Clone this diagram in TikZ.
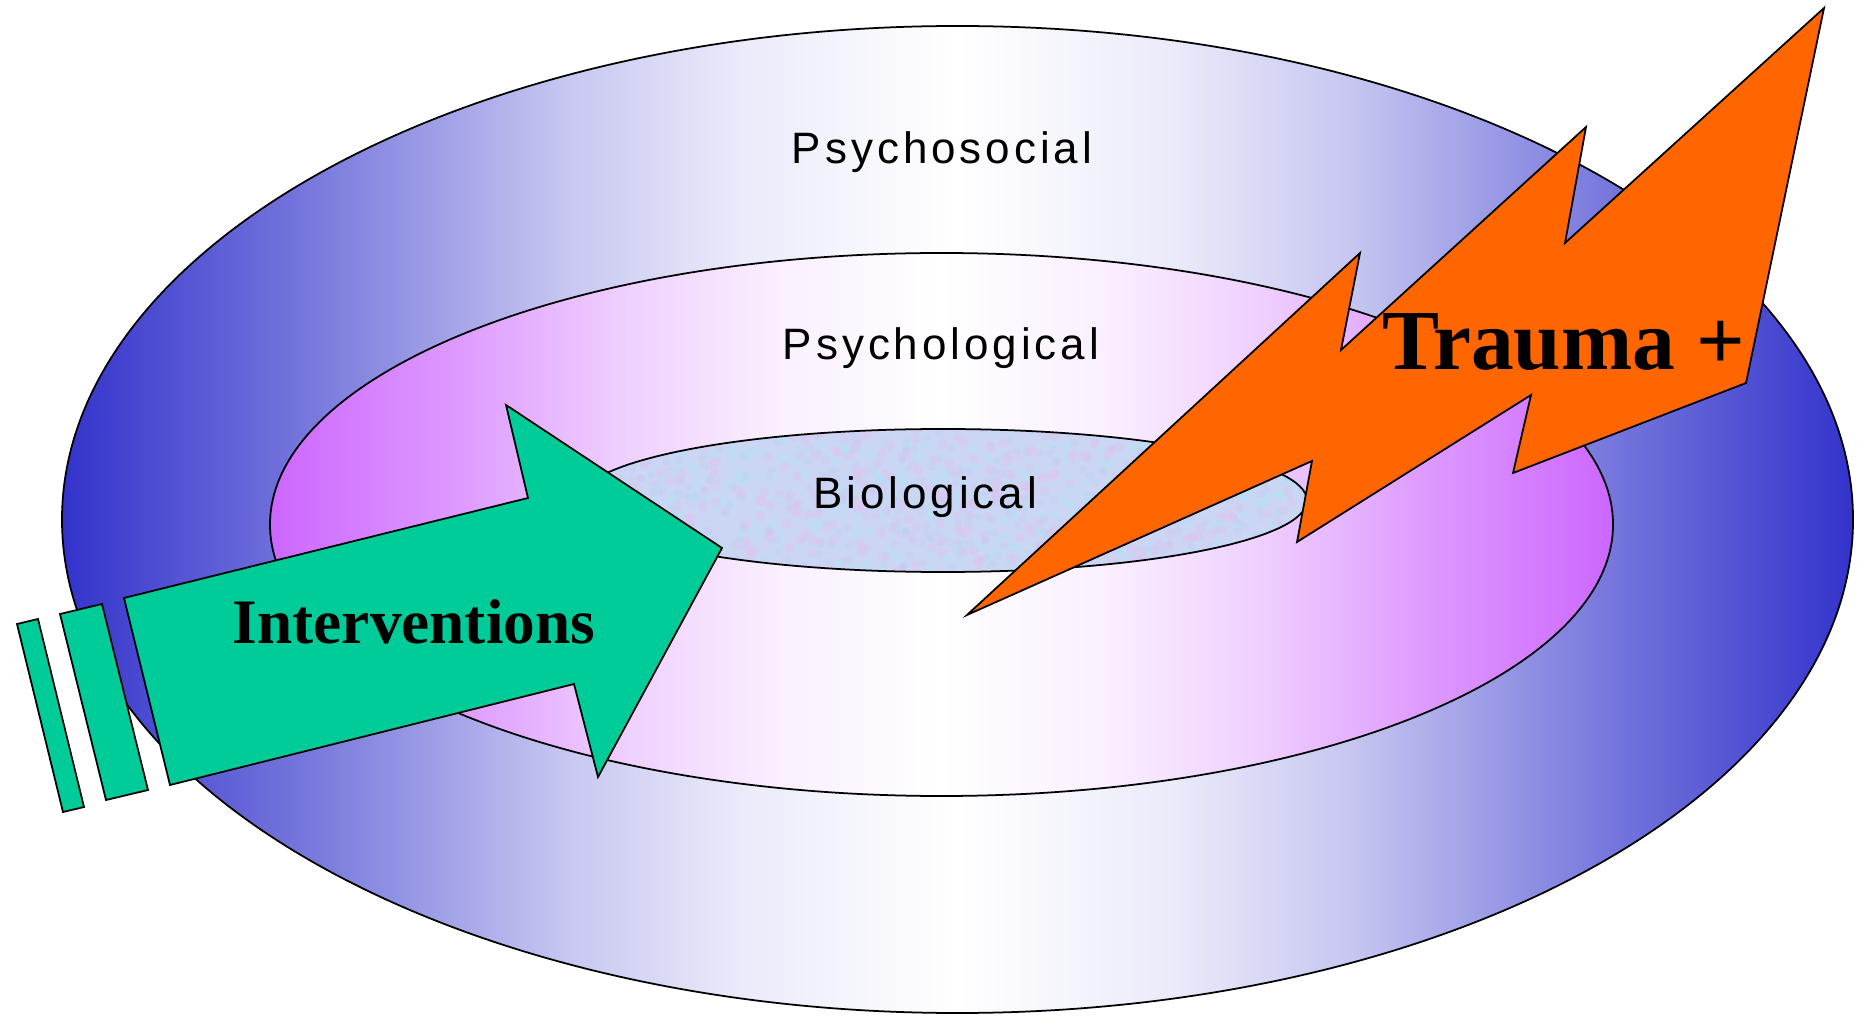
\documentclass[tikz,border=0pt]{standalone}
\usepackage{fontspec}
\setmainfont{Liberation Serif}
\newfontfamily\ringfont[LetterSpace=9]{Liberation Sans}

\definecolor{ringblue}{RGB}{51,51,204}
\definecolor{ringviolet}{RGB}{204,102,255}
\definecolor{coreblue}{RGB}{202,214,244}
\definecolor{corepink}{RGB}{232,190,236}
\definecolor{corecyan}{RGB}{176,228,246}
\definecolor{interventgreen}{RGB}{0,204,153}
\definecolor{traumaorange}{RGB}{255,102,0}

\pgfdeclarehorizontalshading{outerring}{100bp}{color(0bp)=(ringblue); color(25bp)=(ringblue);
  color(32bp)=(ringblue!66); color(39bp)=(ringblue!28); color(44bp)=(ringblue!10);
  color(50bp)=(white); color(56bp)=(ringblue!10); color(61bp)=(ringblue!28);
  color(68bp)=(ringblue!66); color(75bp)=(ringblue); color(100bp)=(ringblue)}
\pgfdeclarehorizontalshading{middlering}{100bp}{color(0bp)=(ringviolet); color(25bp)=(ringviolet);
  color(32bp)=(ringviolet!66); color(38bp)=(ringviolet!32); color(44bp)=(ringviolet!10);
  color(50bp)=(white); color(56bp)=(ringviolet!10); color(62bp)=(ringviolet!32);
  color(68bp)=(ringviolet!66); color(75bp)=(ringviolet); color(100bp)=(ringviolet)}

\tikzset{
  outline/.style={draw=black, line width=0.5pt, line join=miter},
  ringlabel/.style={anchor=base, font=\ringfont\fontsize{12.5}{15}\selectfont},
  biglabel/.style={anchor=base, font=\bfseries\fontsize{#1}{#1}\selectfont},
}

\begin{document}
\begin{tikzpicture}[x=0.01cm, y=-0.01cm]
  \useasboundingbox (0,0) rectangle (1861,1016);

  % the three layers
  \draw[outline, shading=outerring]
    (957.5,519.5) ellipse [x radius=895.5, y radius=493.5];
  \draw[outline, shading=middlering]
    (941.5,524.5) ellipse [x radius=671.5, y radius=271.5];
  \fill[coreblue] (943,500.5) ellipse [x radius=364, y radius=71.5];
  \begin{scope}
    \clip (943,500.5) ellipse [x radius=364, y radius=71.5];
    \pgfmathsetseed{42}
    \foreach \k in {1,...,400} {
      \fill[corepink, opacity=0.3] ({943+364*rand},{500+72*rand}) circle [radius=5];
      \fill[corecyan, opacity=0.3] ({943+364*rand},{500+72*rand}) circle [radius=5];
      \fill[ringblue!30, opacity=0.2] ({943+364*rand},{500+72*rand}) circle [radius=4];
    }
  \end{scope}
  \draw[outline] (943,500.5) ellipse [x radius=364, y radius=71.5];

  \node[ringlabel] (psychosocial) at (942,164) {Psychosocial};
  \node[ringlabel] (psychological) at (941,360) {Psychological};
  \node[ringlabel] (biological) at (925,509) {Biological};

  % interventions arrow
  \draw[outline, fill=interventgreen] (17,624) -- (38,619) -- (84,807) -- (63,812) -- cycle;
  \draw[outline, fill=interventgreen] (60,614) -- (102,604) -- (148,790) -- (106,800) -- cycle;
  \draw[outline, fill=interventgreen] (124,598) -- (528,498) -- (506,405) -- (722,548)
    -- (598,777) -- (574,684) -- (170,785) -- cycle;
  \node[biglabel=18] (interventions) at (414,643) {Interventions};

  % trauma bolt
  \draw[outline, fill=traumaorange] (967,615) -- (1360,253) -- (1341,350) -- (1586,127)
    -- (1565,243) -- (1824,8) -- (1746,383) -- (1513,473) -- (1531,395)
    -- (1297,542) -- (1312,461) -- cycle;
  \node[biglabel=24.3] (trauma) at (1564,370) {Trauma +};
\end{tikzpicture}
\end{document}
